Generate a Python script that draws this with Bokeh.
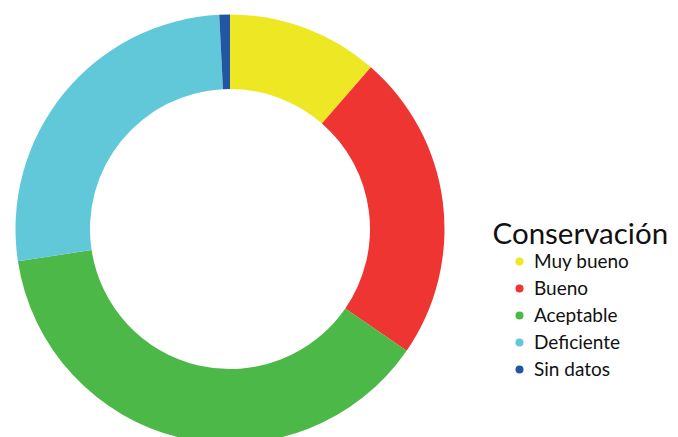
import math
from bokeh.plotting import figure
from bokeh.models import ColumnDataSource, Range1d, Legend, LegendItem, Label
from bokeh.embed import file_html
from bokeh.resources import INLINE

# Data
categories = ["Muy bueno", "Bueno", "Aceptable", "Deficiente", "Sin datos"]
values = [11.4, 23.2, 38.0, 26.6, 0.8]
colors = ["#EEE824", "#EE3532", "#4BB848", "#60C8D8", "#2355A5"]
legend_title = "Conservación"

total = sum(values)
starts, ends = [], []
acc = 0.0
for v in values:
    starts.append(math.pi / 2 - 2 * math.pi * acc / total)
    acc += v
    ends.append(math.pi / 2 - 2 * math.pi * acc / total)

W, H = 678, 437
p = figure(width=W, height=H, output_backend="svg", toolbar_location=None,
           x_range=Range1d(0, W), y_range=Range1d(0, H), min_border=0)
p.axis.visible = False
p.grid.visible = False
p.outline_line_color = None
p.background_fill_color = "white"

src = ColumnDataSource(dict(cat=categories, val=values, color=colors,
                            start=starts, end=ends))
p.annular_wedge(x=229.5, y=H - 228.5, inner_radius=140, outer_radius=214.5,
                start_angle="start", end_angle="end", direction="clock",
                fill_color="color", line_color=None, source=src)

# legend markers (not drawn on the canvas: NaN positions)
lsrc = ColumnDataSource(dict(x=[float("nan")] * len(categories),
                             y=[float("nan")] * len(categories),
                             color=colors, cat=categories))
r = p.scatter(x="x", y="y", fill_color="color", line_color=None, size=8, source=lsrc)

items = [LegendItem(label=c, renderers=[r], index=i) for i, c in enumerate(categories)]
legend = Legend(items=items, location=(509, 57), padding=0, margin=0,
                border_line_color=None, background_fill_alpha=0,
                glyph_width=20, glyph_height=20, label_height=20,
                label_standoff=5, spacing=4,
                label_text_font="Lato", label_text_font_size="19px",
                label_text_color="#111111")
p.add_layout(legend, "center")

title = Label(x=492, y=H - 232, x_units="screen", y_units="screen",
              text=legend_title, text_font="Lato", text_font_size="29.5px",
              text_color="#111111", text_baseline="alphabetic")
p.add_layout(title)

open("out.html", "w").write(file_html(p, INLINE))
